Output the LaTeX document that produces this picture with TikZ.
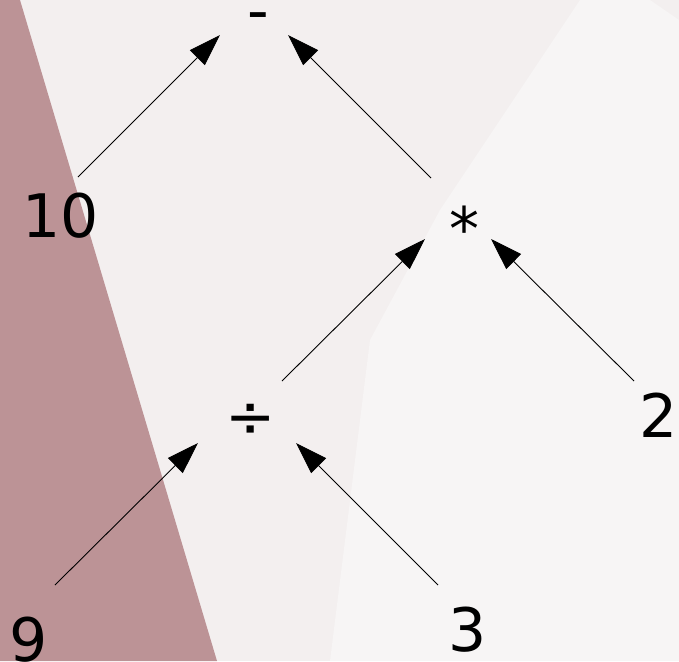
\documentclass[tikz,border=0pt]{standalone}
\usepackage{fontspec}
\setmainfont{DejaVu Sans}
\usepackage{tikz}
\usetikzlibrary{arrows.meta}
\definecolor{treepaper}{RGB}{243,239,239}
\definecolor{treelight}{RGB}{247,245,245}
\definecolor{treerose}{RGB}{188,147,150}

\tikzset{
  term/.style={anchor=base, inner sep=0pt, font=\fontsize{60}{72}\selectfont},
  edge/.style={line width=0.9pt, -{Triangle[length=32pt,width=21pt]}}
}

\begin{document}
\begin{tikzpicture}[x=1pt,y=-1pt]
        % background
        \fill[treepaper] (0,0) rectangle (679,661);
        \fill[treelight] (580,0) -- (650,0) -- (679,20) -- (679,661) -- (330,661) -- (370,340) -- (440,210) -- cycle;
        \fill[treerose] (0,0) -- (20,0) -- (217,661) -- (0,661) -- cycle;
        \useasboundingbox (0,0) rectangle (679,661);

        % expression tree
        \node[term] (minus) at (258,32) {-};
        \node[term] (n10) at (60.5,237) {10};
        \node[term] (times) at (464.5,250) {*};
        \node[term] (divide) at (251,437) {÷};
        \node[term] (n2) at (659,437) {2};
        \node[term] (n9) at (29,661) {9};
        \node[term] (n3) at (468,651) {3};

        \draw[edge] ([shift={(17.5,-60)}]n10.base) -- ([shift={(-38,3)}]minus.base);
        \draw[edge] ([shift={(-33.5,-72)}]times.base) -- ([shift={(30,3)}]minus.base);
        \draw[edge] ([shift={(31,-56)}]divide.base) -- ([shift={(-39.5,-11)}]times.base);
        \draw[edge] ([shift={(-25,-56)}]n2.base) -- ([shift={(26.5,-11)}]times.base);
        \draw[edge] ([shift={(26,-76)}]n9.base) -- ([shift={(-53,6)}]divide.base);
        \draw[edge] ([shift={(-30,-66)}]n3.base) -- ([shift={(45,6)}]divide.base);
    \end{tikzpicture}
\end{document}
